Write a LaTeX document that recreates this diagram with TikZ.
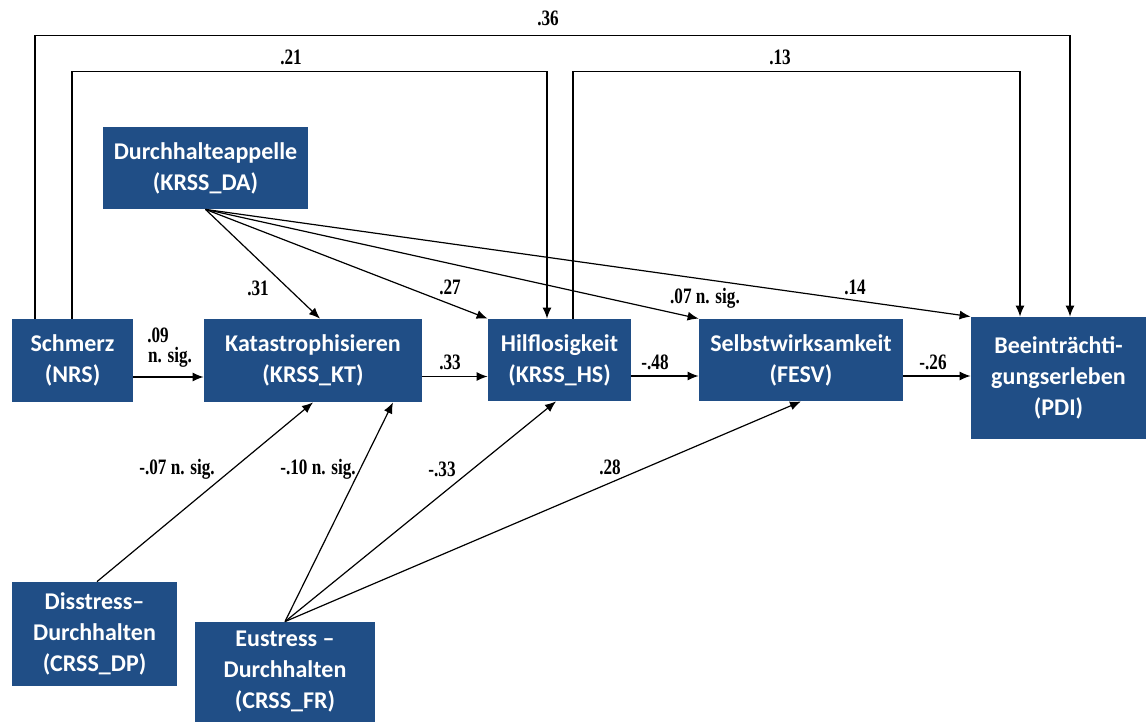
\documentclass[tikz,border=0pt]{standalone}
\usepackage{fontspec}
\setmainfont{Carlito}
\newfontfamily\lblfont[FakeStretch=0.78]{Liberation Serif}
\usetikzlibrary{arrows.meta,calc}
\definecolor{boxblue}{RGB}{32,78,134}
\tikzset{
  box/.style={fill=boxblue, draw=none, text=white, align=center,
    font=\fontsize{12}{15.5}\selectfont\bfseries, inner sep=0pt},
  arr/.style={draw=black, line width=0.6pt, -{Latex[length=5.5pt,width=4.5pt]}},
  lbl/.style={font=\lblfont\fontsize{11}{12}\selectfont\bfseries, inner sep=0pt}
}
\begin{document}
\begin{tikzpicture}[x=0.5pt,y=-0.5pt]
\useasboundingbox (0,0) rectangle (1147,722);
% boxes
\node[box, minimum width=102.5pt, minimum height=41pt] (DA) at (205.5,168) {Durchhalteappelle\\(KRSS\_DA)};
\node[box, minimum width=60.5pt, minimum height=41.5pt] (NRS) at (72.5,360.5) {Schmerz\\(NRS)};
\node[box, minimum width=109pt, minimum height=41.5pt] (KT) at (313,360.5) {Katastrophisieren\\(KRSS\_KT)};
\node[box, minimum width=71.5pt, minimum height=41pt] (HS) at (559.5,360) {Hilflosigkeit\\(KRSS\_HS)};
\node[box, minimum width=102pt, minimum height=41pt] (FESV) at (801,360) {Selbstwirksamkeit\\(FESV)};
\node[box, minimum width=87.5pt, minimum height=61pt] (PDI) at (1058.5,378) {Beeinträchti-\\gungserleben\\(PDI)};
\node[box, minimum width=82.5pt, minimum height=52pt] (DP) at (94.5,634) {Disstress--\\Durchhalten\\(CRSS\_DP)};
\node[box, minimum width=90pt, minimum height=50pt] (FR) at (285,672) {Eustress --\\Durchhalten\\(CRSS\_FR)};
% top loops
\draw[arr] ([xshift=-18.75pt]NRS.north) -- ++(0,-283) -| ([xshift=5.75pt]PDI.north);
\draw[arr] ([xshift=-0.25pt]NRS.north) -- ++(0,-247) -| ([xshift=-6.25pt]HS.north);
\draw[arr] ([xshift=6.75pt]HS.north) -- ++(0,-247) -| ([xshift=-19.25pt]PDI.north);
% from Durchhalteappelle
\draw[arr] (DA.south) -- ([xshift=3.5pt]KT.north);
\draw[arr] (DA.south) -- (HS.north west);
\draw[arr] (DA.south) -- (FESV.north west);
\draw[arr] (DA.south) -- (PDI.north west);
% horizontal chain
\coordinate (h1) at ([yshift=-8.25pt]NRS.east);
\coordinate (h2) at ([yshift=-8pt]KT.east);
\coordinate (h3) at ([yshift=-8pt]HS.east);
\coordinate (h4) at ([yshift=-8pt]FESV.east);
\draw[arr] (h1) -- (h1 -| KT.west);
\draw[arr] (h2) -- (h2 -| HS.west);
\draw[arr] (h3) -- (h3 -| FESV.west);
\draw[arr] (h4) -- (h4 -| PDI.west);
% bottom
\draw[arr] ([xshift=1.25pt]DP.north) -- (KT.south);
\draw[arr] (FR.north) -- ([xshift=40pt]KT.south);
\draw[arr] (FR.north) -- ([xshift=-1.75pt]HS.south);
\draw[arr] (FR.north) -- (FESV.south);
% labels
\node[lbl] (l36) at (548,18) {.36};
\node[lbl] (l21) at (291,57) {.21};
\node[lbl] (l13) at (780,57) {.13};
\node[lbl] (l31) at (258,288) {.31};
\node[lbl] (l27) at (450,287) {.27};
\node[lbl] (l07) at (705,298) {.07 n. sig.};
\node[lbl] (l14) at (855,287) {.14};
\node[lbl] (l09) at (158,335) {.09};
\node[lbl] (l09b) at (170,357) {n. sig.};
\node[lbl] (l33) at (450,362) {.33};
\node[lbl] (l48) at (655,362) {-.48};
\node[lbl] (l26) at (933,362) {-.26};
\node[lbl] (lm07) at (177,469) {-.07 n. sig.};
\node[lbl] (lm10) at (318,469) {-.10 n. sig.};
\node[lbl] (lm33) at (442,469) {-.33};
\node[lbl] (l28) at (610,467) {.28};
\end{tikzpicture}
\end{document}
